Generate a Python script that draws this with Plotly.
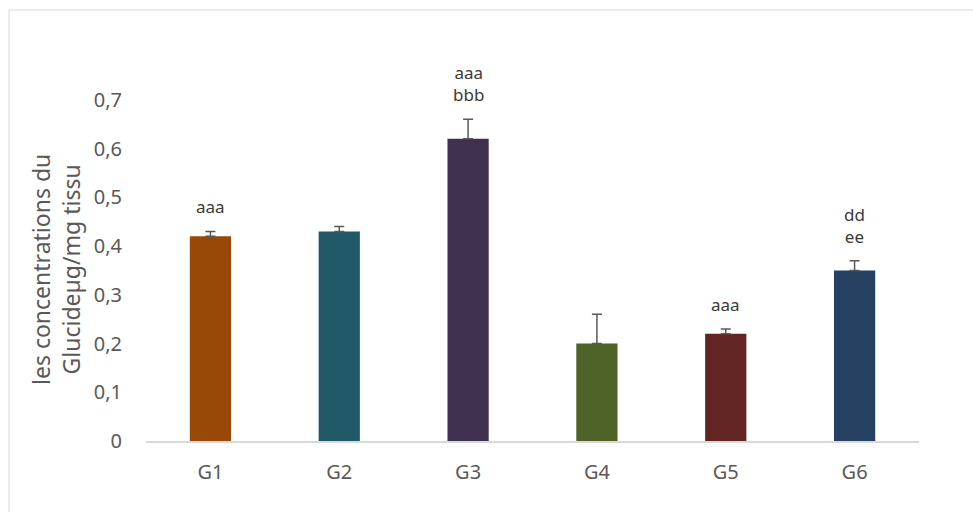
import plotly.graph_objects as go

# Glucide concentration per group
groups = ["G1", "G2", "G3", "G4", "G5", "G6"]
means = [0.42, 0.43, 0.62, 0.20, 0.22, 0.35]
errors = [0.01, 0.01, 0.04, 0.06, 0.01, 0.02]
colors = ["#984807", "#215968", "#403151", "#4F6228", "#632523", "#254061"]
# significance letters, one line per list entry
letters = [["aaa"], [], ["aaa", "bbb"], [], ["aaa"], ["dd", "ee"]]

yticks = [0, 0.1, 0.2, 0.3, 0.4, 0.5, 0.6, 0.7]
ytick_text = ["0", "0,1", "0,2", "0,3", "0,4", "0,5", "0,6", "0,7"]
y_title = "les concentrations du<br>Glucideµg/mg tissu"

fig = go.Figure()
fig.add_trace(go.Bar(
    x=groups,
    y=means,
    marker=dict(color=colors, line=dict(width=0)),
    error_y=dict(
        type="data",
        symmetric=False,
        array=errors,
        arrayminus=[0] * len(errors),
        color="#595959",
        thickness=1.5,
        width=5,
    ),
    width=0.32,
    showlegend=False,
))

for g, m, e, lab in zip(groups, means, errors, letters):
    if not lab:
        continue
    fig.add_annotation(
        x=g, y=m + e,
        text="<br>".join(lab),
        showarrow=False,
        yanchor="bottom",
        yshift=11,
        font=dict(family="Noto Sans", size=17, color="#3a3a3a"),
    )

# vertical axis title, two lines
fig.add_annotation(
    xref="paper", yref="paper",
    x=(56 - 146) / 773, y=(441 - 270) / 390,
    text=y_title,
    textangle=-90,
    showarrow=False,
    xanchor="center", yanchor="middle",
    font=dict(family="Noto Sans", size=23, color="#595959"),
)

# outer chart frame
fig.add_shape(
    type="rect", xref="paper", yref="paper",
    x0=(9 - 146) / 773, x1=1.2, y0=-0.4, y1=(441 - 10) / 390,
    line=dict(color="#d9d9d9", width=1),
    fillcolor="rgba(0,0,0,0)",
    layer="below",
)

fig.update_layout(
    width=973, height=512,
    margin=dict(l=146, r=54, t=51, b=71),
    plot_bgcolor="white",
    paper_bgcolor="white",
    font=dict(family="Noto Sans", color="#595959"),
    xaxis=dict(
        showgrid=False,
        showline=True, linecolor="#d9d9d9", linewidth=1.5,
        ticks="",
        tickfont=dict(size=20, color="#595959"),
        ticklabelstandoff=12,
    ),
    yaxis=dict(
        range=[0, 0.8],
        showgrid=False,
        showline=False,
        zeroline=False,
        tickvals=yticks,
        ticktext=ytick_text,
        tickfont=dict(size=20, color="#595959"),
        ticklabelstandoff=23,
    ),
)

fig.write_html("out.html")
